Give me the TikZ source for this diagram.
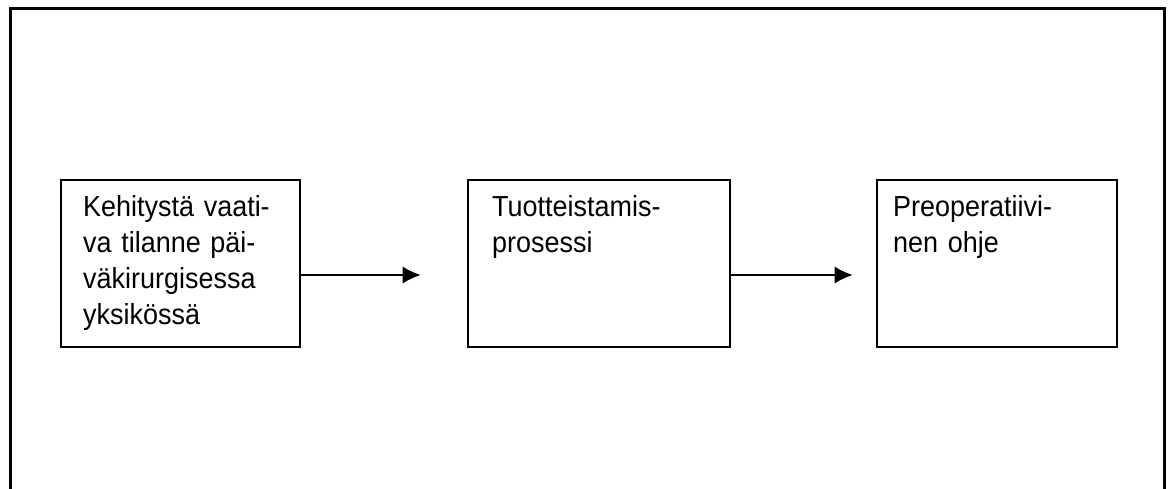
\documentclass[tikz,border=0pt]{standalone}
\usepackage{fontspec}
\setmainfont{Liberation Sans}[FakeStretch=0.93]
\usetikzlibrary{arrows.meta}
\begin{document}
\begin{tikzpicture}[x=1pt,y=-1pt,
  frame/.style={line width=2.6pt,black},
  stepbox/.style={draw=black,line width=1.6pt,rectangle,inner sep=0pt},
  boxtext/.style={anchor=base west,inner sep=0pt,align=left,text width=#1,
    font=\fontsize{29}{35.8}\selectfont},
  flow/.style={line width=1.5pt,-{Latex[length=18pt,width=17pt]}}]
\useasboundingbox (0,0) rectangle (1170,489);
\coordinate (fbl) at (10.7,489);
\coordinate (ftl) at (10.7,8.7);
\coordinate (ftr) at (1164.7,8.7);
\coordinate (fbr) at (1164.7,489);
\draw[frame] (fbl) -- (ftl) -- (ftr) -- (fbr);
\node[stepbox,minimum width=239pt,minimum height=167pt] (b1) at (180.5,263.5) {};
\node[stepbox,minimum width=262pt,minimum height=167pt] (b2) at (599,263.5) {};
\node[stepbox,minimum width=240pt,minimum height=167pt] (b3) at (997,263.5) {};
\node[boxtext=210pt] (t1) at (83,216.7) {Kehitystä vaati-\\va tilanne päi-\\väkirurgisessa\\yksikössä};
\node[boxtext=230pt] (t2) at (492,216.7) {Tuotteistamis-\\prosessi};
\node[boxtext=220pt] (t3) at (893,216.7) {Preoperatiivi-\\nen ohje};
\coordinate (a1) at (420.7,275);
\coordinate (a2) at (852.7,275);
\draw[flow] (b1.east |- a1) -- (a1);
\draw[flow] (b2.east |- a2) -- (a2);
\end{tikzpicture}
\end{document}
